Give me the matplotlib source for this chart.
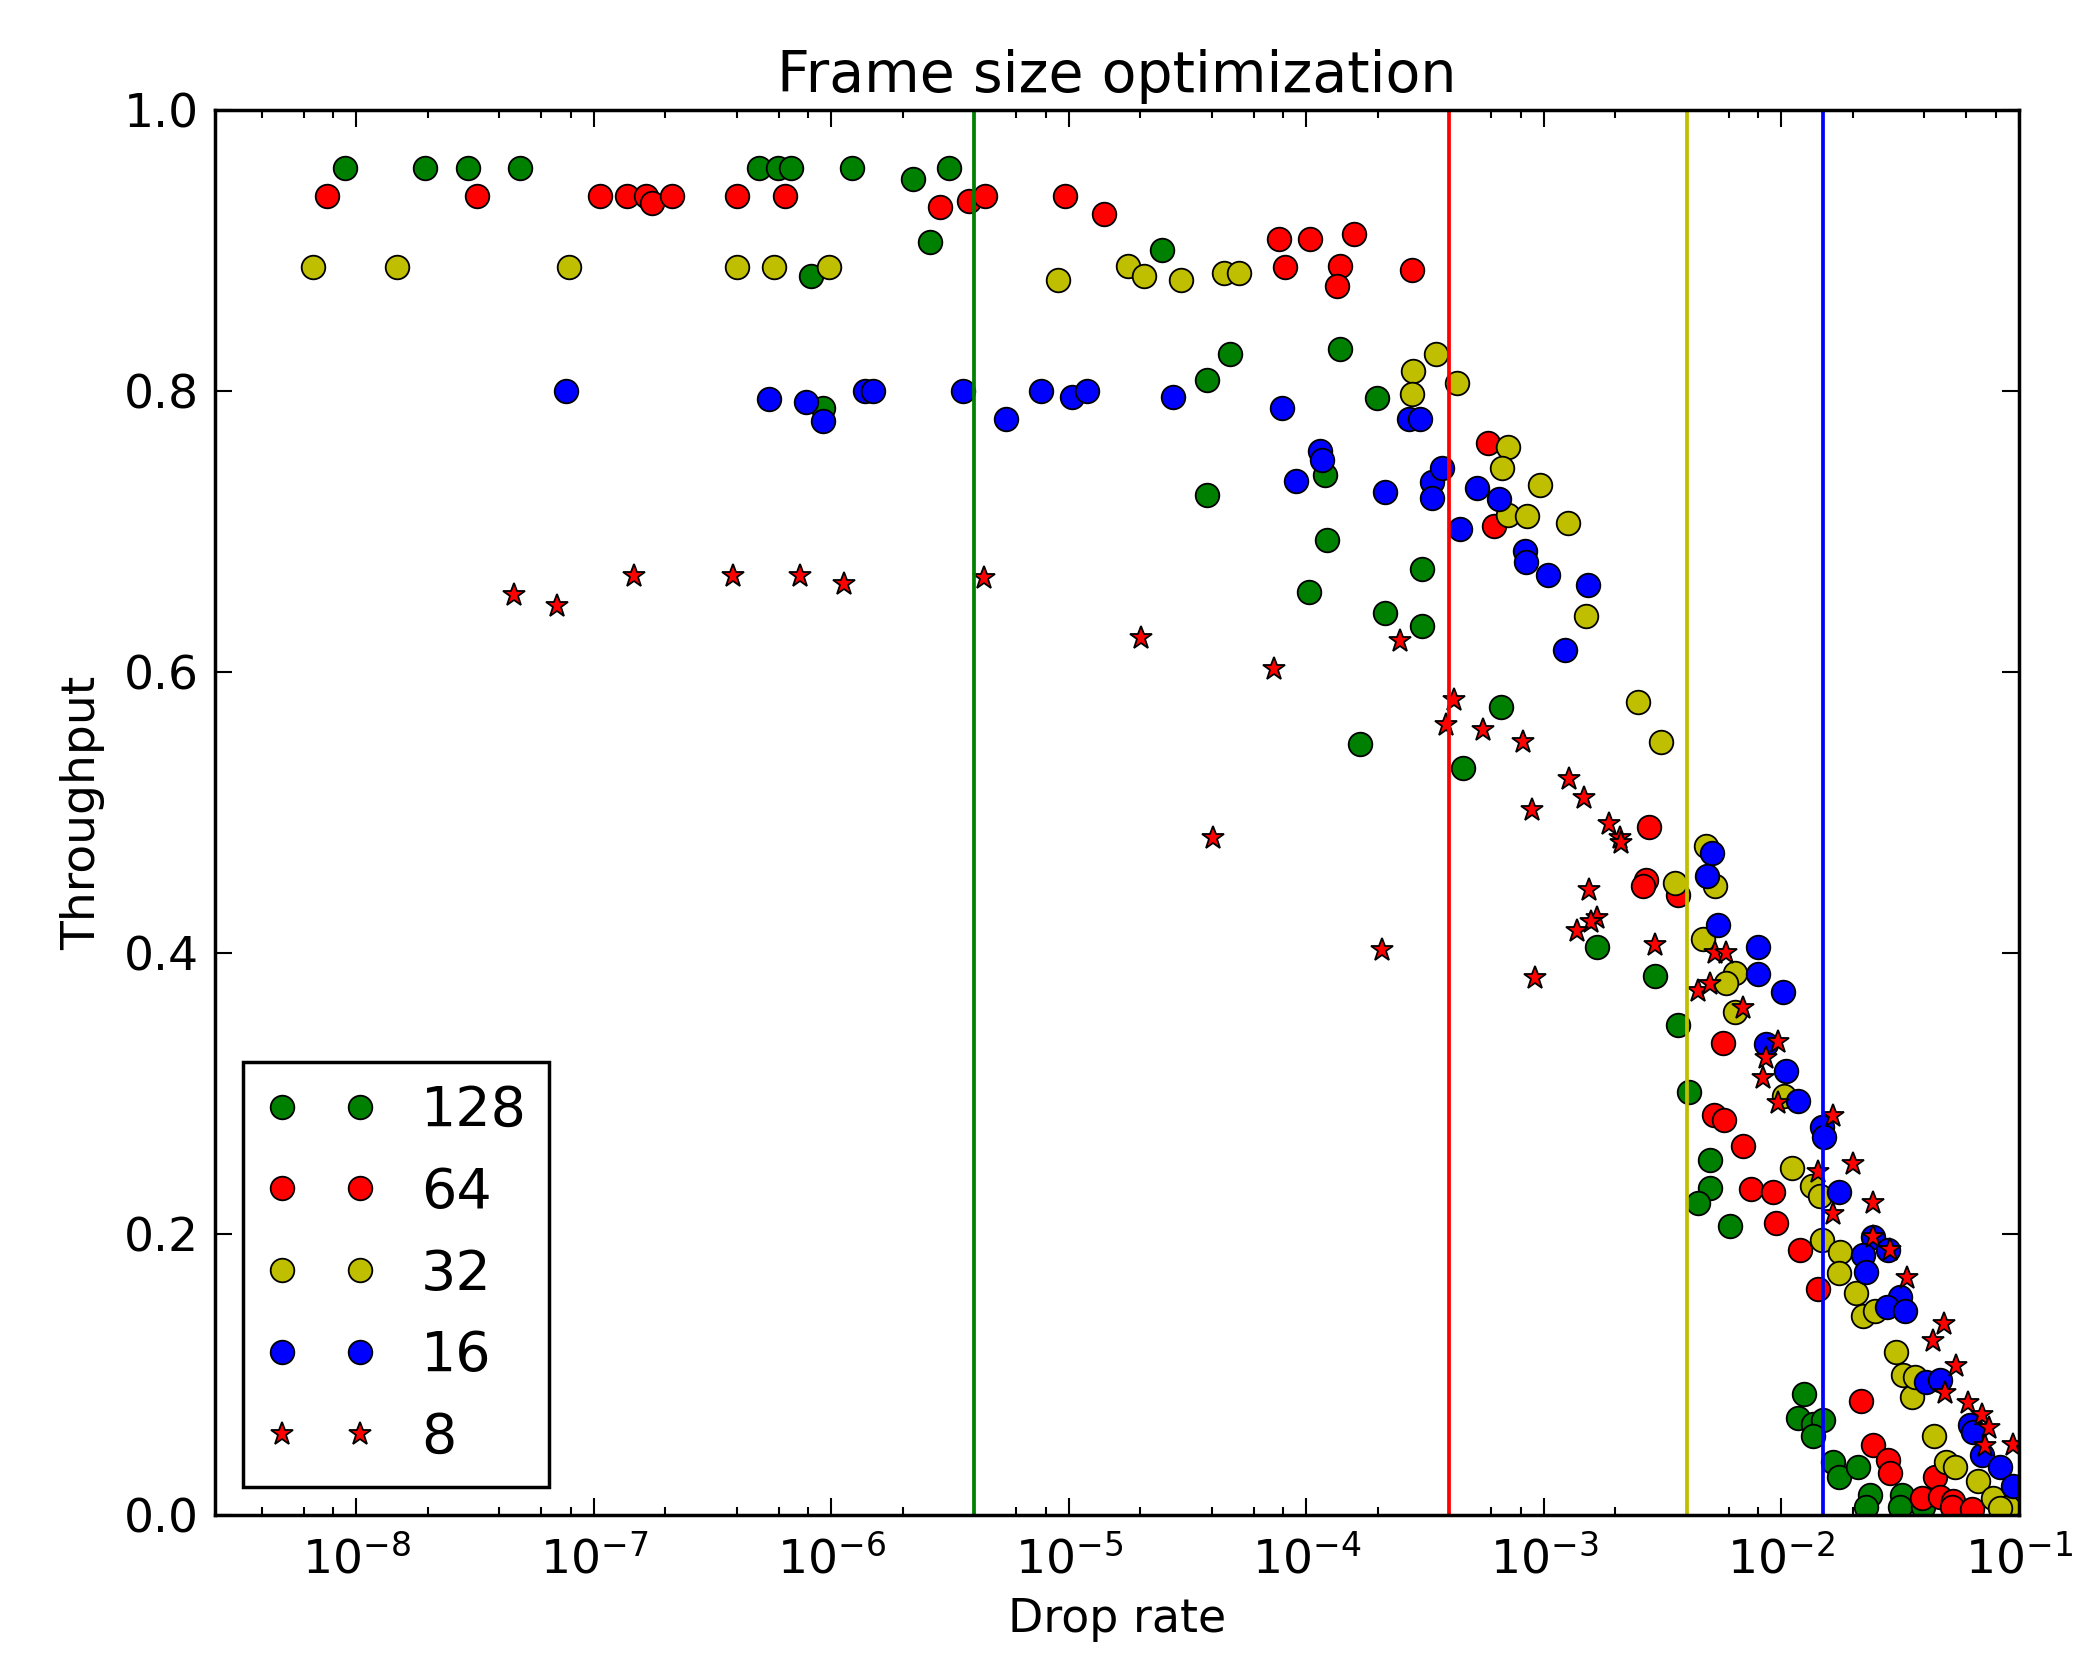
import matplotlib
matplotlib.use('Agg')
import matplotlib.pyplot as plt
from matplotlib.ticker import LogLocator, FormatStrFormatter, NullFormatter

# Drop rate / throughput per frame size
drop_128 = [8.93e-9, 1.94e-8, 2.94e-8, 4.88e-8, 4.98e-7, 5.96e-7, 6.79e-7, 1.22e-6,
            3.13e-6, 2.21e-6, 2.59e-6, 8.20e-7, 9.25e-7, 2.46e-5, 4.78e-5, 3.83e-5,
            1.38e-4, 1.98e-4, 3.83e-5, 1.20e-4, 1.22e-4, 3.07e-4, 1.03e-4, 2.15e-4,
            3.07e-4, 1.68e-4, 6.58e-4, 4.58e-4, 1.68e-3, 2.93e-3, 3.66e-3, 4.08e-3,
            5.00e-3, 5.00e-3, 4.46e-3, 6.07e-3, 1.24e-2, 1.17e-2, 1.36e-2, 1.50e-2,
            1.36e-2, 1.65e-2, 1.75e-2, 2.10e-2, 2.36e-2, 2.28e-2, 3.21e-2, 3.15e-2,
            3.95e-2]
thr_128 = [0.959, 0.959, 0.959, 0.959, 0.959, 0.959, 0.959, 0.959,
           0.959, 0.951, 0.906, 0.882, 0.788, 0.900, 0.826, 0.808,
           0.830, 0.795, 0.726, 0.740, 0.694, 0.673, 0.657, 0.642,
           0.633, 0.549, 0.575, 0.532, 0.404, 0.384, 0.349, 0.301,
           0.253, 0.233, 0.222, 0.206, 0.086, 0.069, 0.065, 0.068,
           0.056, 0.038, 0.027, 0.034, 0.014, 0.006, 0.014, 0.006,
           0.006]

drop_64 = [7.55e-9, 3.21e-8, 1.06e-7, 1.38e-7, 1.66e-7, 1.75e-7, 2.13e-7, 4.01e-7,
           6.41e-7, 2.88e-6, 3.78e-6, 4.42e-6, 9.59e-6, 1.41e-5, 7.69e-5, 1.04e-4,
           1.58e-4, 8.09e-5, 1.38e-4, 1.34e-4, 2.77e-4, 5.82e-4, 6.17e-4, 2.77e-3,
           2.70e-3, 2.62e-3, 3.66e-3, 5.69e-3, 5.21e-3, 5.73e-3, 6.90e-3, 7.48e-3,
           9.18e-3, 9.44e-3, 1.20e-2, 1.43e-2, 2.17e-2, 2.42e-2, 2.81e-2, 2.86e-2,
           4.43e-2, 3.89e-2, 4.65e-2, 5.28e-2, 5.20e-2, 6.32e-2]
thr_64 = [0.939, 0.939, 0.939, 0.939, 0.939, 0.934, 0.939, 0.939,
          0.939, 0.931, 0.935, 0.939, 0.939, 0.926, 0.908, 0.908,
          0.912, 0.888, 0.889, 0.875, 0.886, 0.763, 0.704, 0.490,
          0.452, 0.448, 0.441, 0.336, 0.285, 0.281, 0.263, 0.232,
          0.230, 0.208, 0.189, 0.161, 0.081, 0.050, 0.039, 0.030,
          0.027, 0.012, 0.013, 0.010, 0.006, 0.004]

drop_32 = [6.58e-9, 1.48e-8, 7.83e-8, 4.01e-7, 5.75e-7, 9.82e-7, 9.02e-6, 1.77e-5,
           2.08e-5, 2.96e-5, 4.52e-5, 5.21e-5, 3.52e-4, 2.82e-4, 2.77e-4, 4.31e-4,
           7.08e-4, 6.68e-4, 9.64e-4, 7.08e-4, 8.49e-4, 1.26e-3, 1.50e-3, 2.49e-3,
           3.10e-3, 4.79e-3, 5.27e-3, 3.56e-3, 4.68e-3, 6.37e-3, 5.87e-3, 6.37e-3,
           1.03e-2, 1.11e-2, 1.34e-2, 1.45e-2, 1.48e-2, 1.77e-2, 1.75e-2, 2.06e-2,
           2.21e-2, 2.48e-2, 3.03e-2, 3.24e-2, 3.56e-2, 3.65e-2, 4.40e-2, 4.95e-2,
           5.38e-2, 6.73e-2, 7.80e-2, 9.00e-2, 8.32e-2]
thr_32 = [0.888, 0.888, 0.888, 0.888, 0.888, 0.888, 0.879, 0.889,
          0.882, 0.879, 0.884, 0.884, 0.826, 0.814, 0.798, 0.806,
          0.760, 0.745, 0.733, 0.712, 0.711, 0.706, 0.640, 0.579,
          0.550, 0.476, 0.448, 0.450, 0.410, 0.386, 0.379, 0.358,
          0.298, 0.247, 0.234, 0.227, 0.196, 0.187, 0.172, 0.158,
          0.142, 0.145, 0.116, 0.100, 0.084, 0.098, 0.056, 0.038,
          0.034, 0.024, 0.012, 0.006, 0.005]

drop_16 = [7.60e-8, 5.45e-7, 7.85e-7, 9.25e-7, 1.39e-6, 1.49e-6, 3.59e-6, 5.46e-6,
           7.62e-6, 1.03e-5, 1.19e-5, 2.74e-5, 7.89e-5, 2.70e-4, 3.02e-4, 1.14e-4,
           1.16e-4, 9.06e-5, 2.15e-4, 3.37e-4, 3.37e-4, 3.73e-4, 4.42e-4, 5.22e-4,
           6.47e-4, 8.32e-4, 8.38e-4, 1.04e-3, 1.54e-3, 1.23e-3, 5.08e-3, 4.84e-3,
           5.41e-3, 7.98e-3, 7.98e-3, 1.02e-2, 8.59e-3, 1.05e-2, 1.17e-2, 1.48e-2,
           1.51e-2, 1.74e-2, 2.42e-2, 2.81e-2, 2.20e-2, 2.28e-2, 3.15e-2, 2.77e-2,
           3.31e-2, 4.06e-2, 4.65e-2, 6.22e-2, 6.43e-2, 6.97e-2, 8.32e-2, 9.44e-2]
thr_16 = [0.800, 0.794, 0.792, 0.779, 0.800, 0.800, 0.800, 0.780,
          0.800, 0.796, 0.800, 0.796, 0.788, 0.780, 0.780, 0.757,
          0.751, 0.736, 0.728, 0.735, 0.724, 0.745, 0.702, 0.731,
          0.723, 0.686, 0.678, 0.669, 0.662, 0.616, 0.471, 0.455,
          0.420, 0.404, 0.385, 0.372, 0.335, 0.316, 0.295, 0.276,
          0.269, 0.230, 0.198, 0.189, 0.185, 0.173, 0.155, 0.148,
          0.145, 0.095, 0.096, 0.064, 0.059, 0.043, 0.034, 0.021]

drop_8 = [4.59e-8, 6.98e-8, 1.48e-7, 3.85e-7, 7.40e-7, 1.13e-6, 4.39e-6, 2.02e-5,
          7.28e-5, 2.48e-4, 4.19e-4, 3.86e-4, 5.55e-4, 8.20e-4, 4.06e-5, 1.28e-3,
          1.47e-3, 8.93e-4, 1.88e-3, 2.09e-3, 2.11e-3, 2.09e-4, 1.55e-3, 1.68e-3,
          1.58e-3, 1.38e-3, 9.18e-4, 2.94e-3, 5.25e-3, 5.87e-3, 4.46e-3, 5.00e-3,
          6.89e-3, 9.68e-3, 8.65e-3, 8.37e-3, 9.68e-3, 1.65e-2, 2.00e-2, 1.43e-2,
          2.42e-2, 1.65e-2, 2.42e-2, 2.86e-2, 3.38e-2, 4.84e-2, 4.36e-2, 5.42e-2,
          4.88e-2, 6.08e-2, 7.00e-2, 7.50e-2, 7.19e-2, 9.40e-2]
thr_8 = [0.655, 0.647, 0.668, 0.668, 0.668, 0.663, 0.667, 0.624,
         0.602, 0.622, 0.580, 0.562, 0.559, 0.550, 0.482, 0.524,
         0.510, 0.502, 0.492, 0.482, 0.478, 0.402, 0.445, 0.425,
         0.422, 0.416, 0.382, 0.406, 0.400, 0.400, 0.373, 0.378,
         0.361, 0.337, 0.325, 0.311, 0.293, 0.284, 0.250, 0.244,
         0.222, 0.214, 0.198, 0.189, 0.169, 0.136, 0.124, 0.106,
         0.087, 0.080, 0.071, 0.062, 0.049, 0.050]

series = [('128', drop_128, thr_128, 'g', 'o'),
          ('64', drop_64, thr_64, 'r', 'o'),
          ('32', drop_32, thr_32, 'y', 'o'),
          ('16', drop_16, thr_16, 'b', 'o'),
          ('8', drop_8, thr_8, 'r', '*')]

# optimal drop rate for each frame size
opt_drop = [4e-6, 4e-4, 4e-3, 1.5e-2]
opt_colors = ['g', 'r', 'y', 'b']

fig = plt.figure(figsize=(20.87, 16.54), dpi=100)
ax = fig.add_axes([0.1032, 0.0840, 0.8642, 0.8495])

for label, x, y, c, m in series:
    ax.plot(x, y, m, color=c, markersize=17, markeredgecolor='k',
            markeredgewidth=1.3, label=label)

for v, c in zip(opt_drop, opt_colors):
    ax.axvline(v, color=c, lw=2.7)

ax.set_xscale('log')
ax.set_xlim(2.55e-9, 0.1)
ax.set_ylim(0, 1)
ax.xaxis.set_major_locator(LogLocator(base=10, numticks=30))
ax.xaxis.set_minor_locator(LogLocator(base=10, subs=(2, 4, 6, 8), numticks=30))
ax.xaxis.set_minor_formatter(NullFormatter())
ax.set_yticks([0.0, 0.2, 0.4, 0.6, 0.8, 1.0])
ax.yaxis.set_major_formatter(FormatStrFormatter('%.1f'))

ax.tick_params(which='both', direction='in', top=True, right=True, width=1.5)
ax.tick_params(which='major', length=12, labelsize=34)
ax.tick_params(which='minor', length=6)
ax.tick_params(axis='x', which='major', pad=15)
ax.tick_params(axis='y', which='major', pad=12)
for sp in ax.spines.values():
    sp.set_linewidth(2.5)

ax.set_title('Frame size optimization', fontsize=41, pad=13)
ax.set_xlabel('Drop rate', fontsize=33, labelpad=10)
ax.set_ylabel('Throughput', fontsize=34, labelpad=13)

leg = ax.legend(loc='lower left', numpoints=2, fontsize=40, handlelength=2,
                handletextpad=0.8, borderpad=0.4, labelspacing=0.5,
                borderaxespad=0.5, fancybox=False, framealpha=1, edgecolor='k')
leg.get_frame().set_linewidth(2.5)

fig.savefig('out.png', dpi=100, facecolor='white')
